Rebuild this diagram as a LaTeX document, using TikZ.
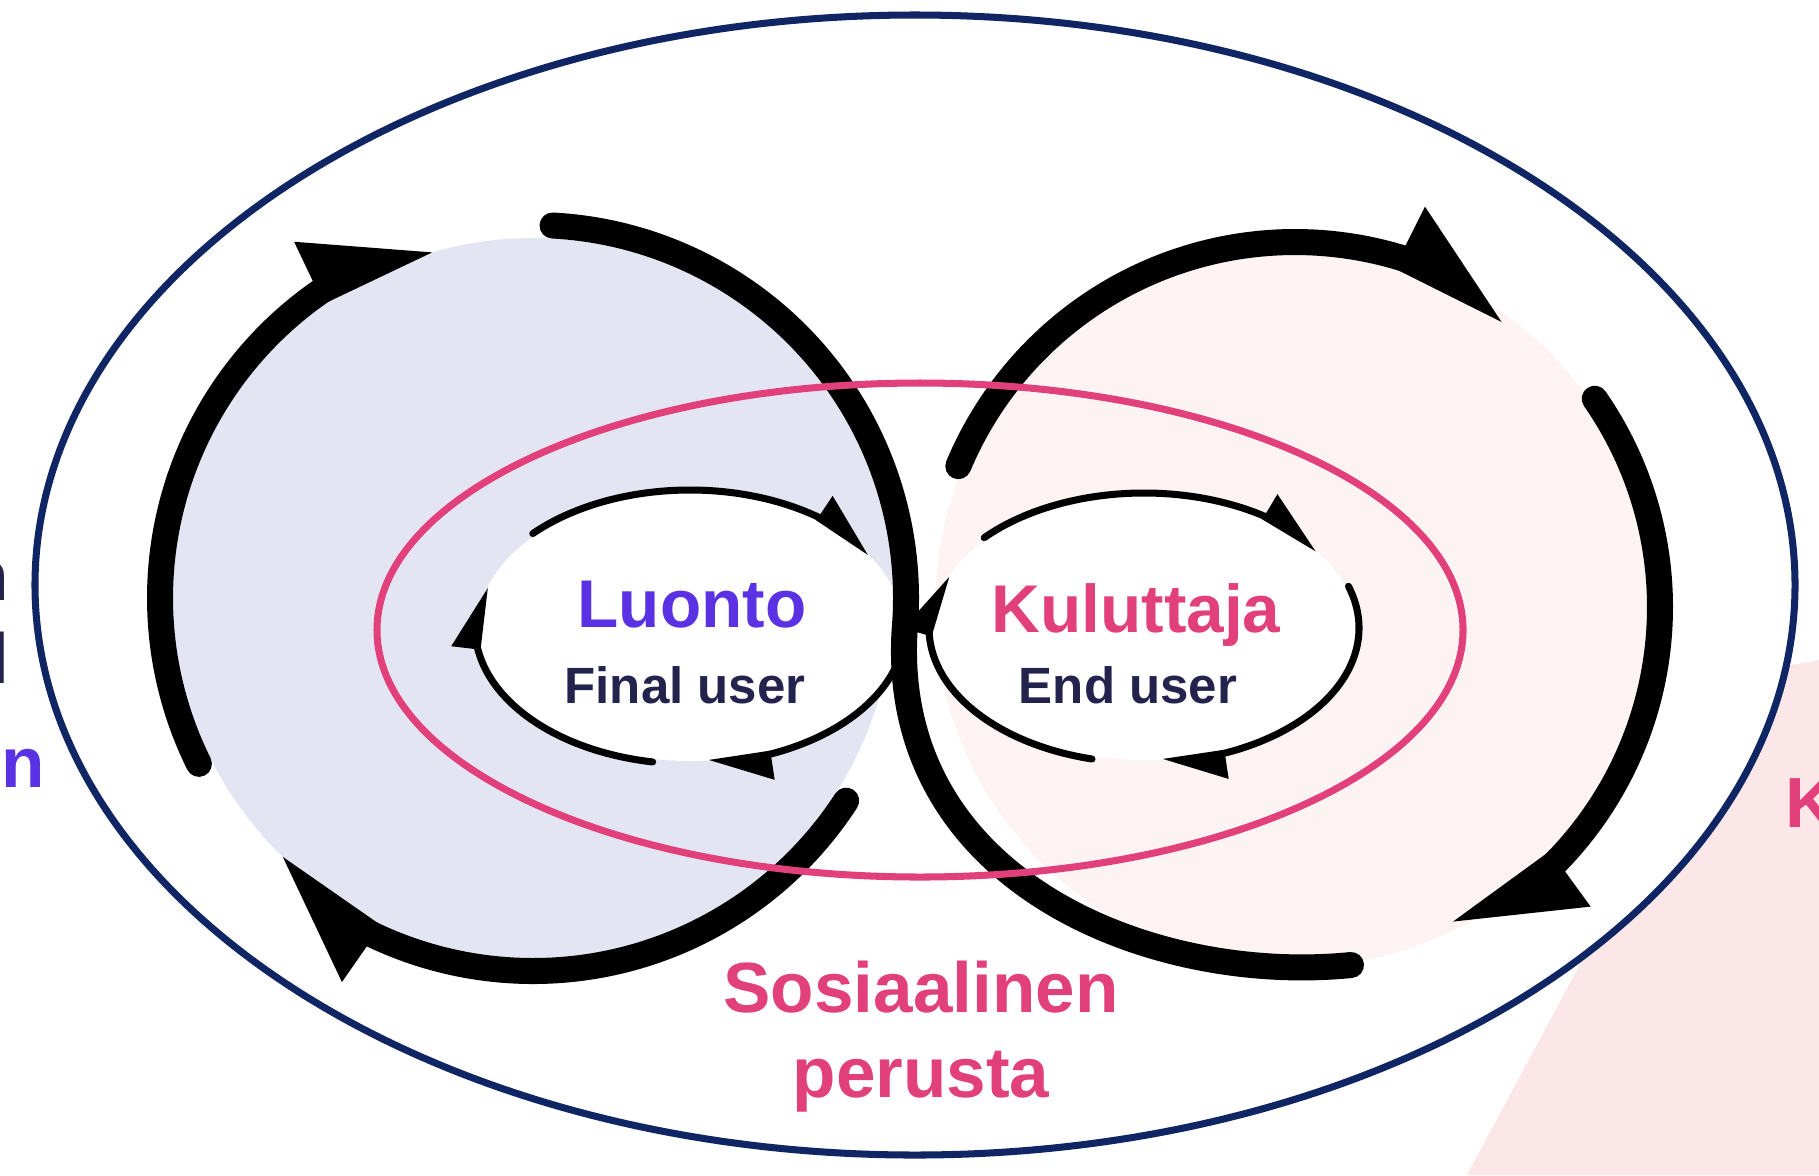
\documentclass[tikz,border=0pt]{standalone}
\usepackage{fontspec}
\setmainfont{Liberation Sans}
\usetikzlibrary{arrows.meta,bending,calc}
\definecolor{marino}{RGB}{16,37,100}
\definecolor{rosa}{RGB}{226,64,122}
\definecolor{viola}{RGB}{90,50,228}
\definecolor{tinta}{RGB}{35,35,77}
\definecolor{lavanda}{RGB}{228,229,243}
\definecolor{cipria}{RGB}{253,243,243}
\definecolor{pannello}{RGB}{251,231,232}

\begin{document}
\begin{tikzpicture}[x=0.01cm,y=-0.01cm]
 \tikzset{big loop/.style={line width=0.26cm, line cap=round}, }
 \tikzset{big arrow/.style={big loop,
 		-{Triangle[harpoon,length=1cm,width=1.05cm]}}, }
 \tikzset{small loop/.style={line width=2pt, line cap=round,
 		-{Triangle[harpoon,length=0.55cm,width=0.5cm]}}, }
 \tikzset{title node/.style={font=\bfseries\fontsize{19.2}{23}\selectfont,
 		inner sep=0, anchor=base}, }
 \tikzset{user node/.style={font=\bfseries\fontsize{14.5}{17}\selectfont,
 		text=tinta, inner sep=0, anchor=base}, }
 \tikzset{side node/.style={font=\bfseries\fontsize{20.2}{24}\selectfont,
 		inner sep=0, anchor=base}, }
 \useasboundingbox (0,0) rectangle (1819,1175);
 \fill[white] (0,0) rectangle (1819,1175);
 \fill[pannello] (1467,1175) -- (1735,675) -- (1819,660) -- (1819,1175) -- cycle;
 \coordinate (centro) at (915,585);
 \coordinate (lc) at (533,598);
 \coordinate (rc) at (1295,607);
 \coordinate (lr) at (690,627);
 \coordinate (rr) at (1144,628);
 \coordinate (ps) at (920,630);
 \coordinate (fondo) at (1351,965);
 \filldraw[fill=white, draw=marino, line width=2pt] (centro) ellipse [x radius=880, y radius=570];
 \fill[lavanda] (lc) circle [radius=360];
 \fill[cipria] (rc) circle [radius=360];
 \fill[white] (lr) ellipse [x radius=212, y radius=134];
 \fill[white] (rr) ellipse [x radius=212, y radius=132];
 % big loops
 \draw[big arrow] ($(lc)+(153.6:373)$) arc [start angle=153.6, end angle=254, radius=373];
 \draw[big arrow] ($(lc)+(32.9:373)$) arc [start angle=32.9, end angle=134.3, radius=373];
 \draw[big loop] ($(lc)+(273:373)$) arc [start angle=273, end angle=365, radius=373]
   .. controls +(-15,250) and +(-201,20) .. (fondo);
 \draw[big arrow] ($(rc)+(202.7:365)$) arc [start angle=202.7, end angle=306.2, radius=365];
 \draw[big arrow] ($(rc)+(325.2:365)$) arc [start angle=325.2, end angle=423.6, radius=365];
 % small loops
 \foreach \a/\b in {223/327,4/85,100/197}
   \draw[small loop] ($(lr)+(\a:215 and 137)$) arc [start angle=\a, end angle=\b, x radius=215, y radius=137];
 \foreach \a/\b in {222/324,342/445,104/203}
   \draw[small loop] ($(rr)+(\a:215 and 135)$) arc [start angle=\a, end angle=\b, x radius=215, y radius=135];
 \draw[rosa, line width=2pt] (ps) ellipse [x radius=543, y radius=247];
 % labels
 \node[title node, text=viola] (luonto) at (692,627) {Luonto};
 \node[user node] (final) at (685,703) {Final user};
 \node[title node, text=rosa] (kuluttaja) at (1136,632) {Kuluttaja};
 \node[user node] (end) at (1128,703) {End user};
 \node[side node, text=rosa] (sosiaalinen) at (921,1012) {Sosiaalinen};
 \node[side node, text=rosa] (perusta) at (921,1097) {perusta};
 \node[side node, text=tinta, anchor=base east] (vasen a) at (10,600) {n};
 \node[side node, text=tinta, anchor=base east] (vasen b) at (10,683) {l};
 \node[side node, text=viola, anchor=base east] (vasen c) at (46,787) {en};
 \node[side node, text=rosa, anchor=base west] (oikea) at (1785,827) {K};
\end{tikzpicture}
\end{document}
